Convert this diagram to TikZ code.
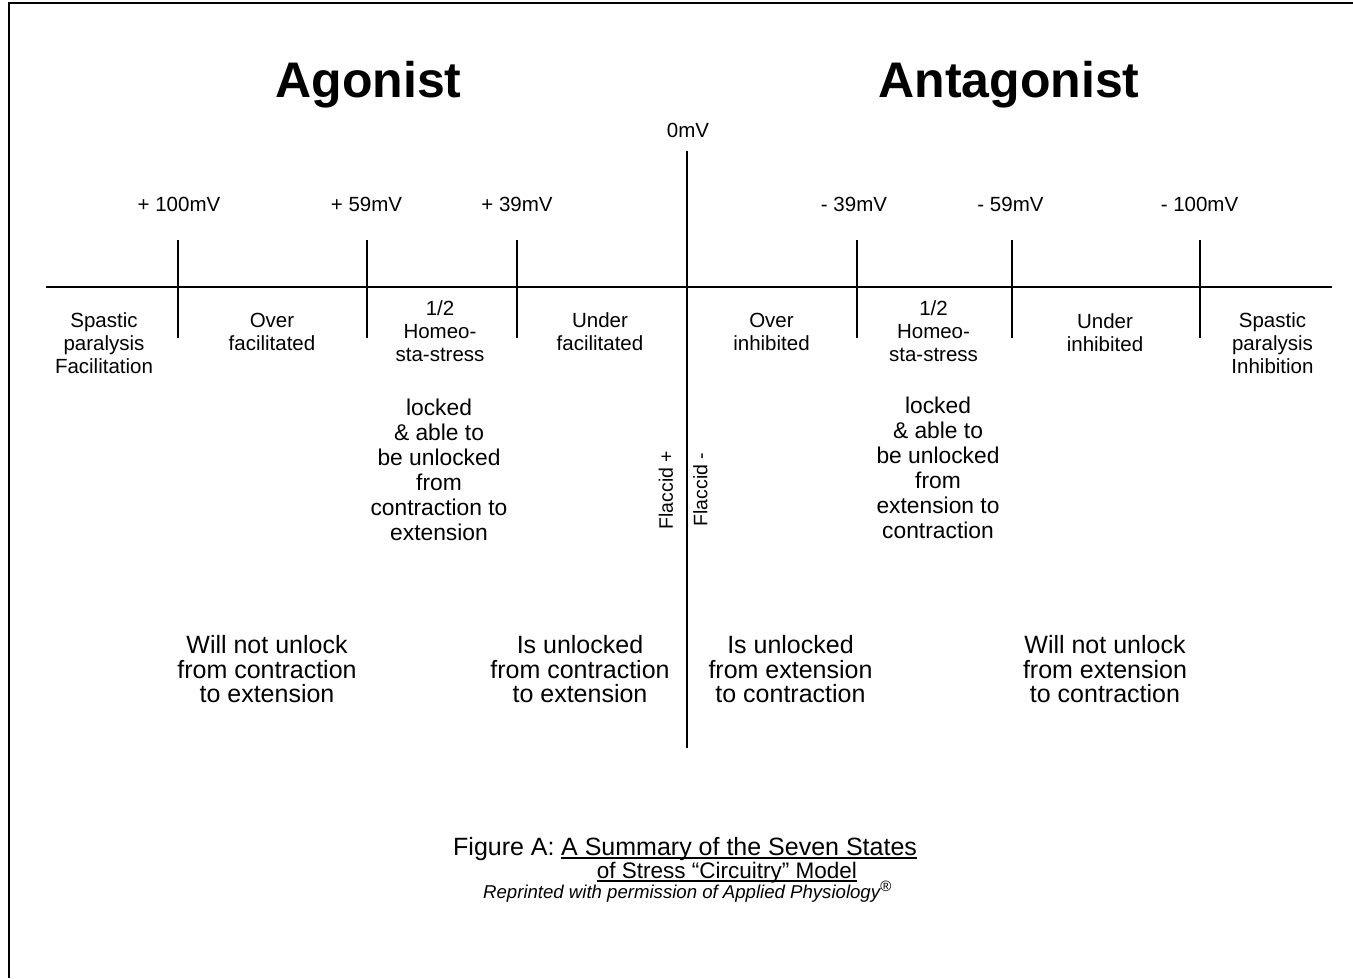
\documentclass[tikz,border=0pt]{standalone}
\usepackage{fontspec}
\setmainfont{Liberation Sans}
\begin{document}
\begin{tikzpicture}[x=1pt,y=-1pt,
  frame/.style={line width=2pt},
  axisline/.style={line width=2.2pt},
  tickline/.style={line width=2pt},
  ulinestyle/.style={line width=1.4pt},
  title/.style={font=\bfseries\fontsize{50}{56}\selectfont, inner sep=0, anchor=base},
  mvlabel/.style={font=\fontsize{20.5}{23}\selectfont, inner sep=0, anchor=base},
  region/.style={font=\fontsize{20.5}{23}\selectfont, align=center, inner sep=0},
  midtext/.style={font=\fontsize{22.8}{25}\selectfont, align=center, inner sep=0},
  bottomtext/.style={font=\fontsize{25}{24.5}\selectfont, align=center, inner sep=0},
  flaccid/.style={font=\fontsize{19.5}{22}\selectfont, inner sep=0, rotate=90},
  captionA/.style={font=\fontsize{25}{28}\selectfont, inner sep=0, anchor=base west},
  captionB/.style={font=\fontsize{22.5}{26}\selectfont, inner sep=0, anchor=base},
  reprint/.style={font=\itshape\fontsize{18.6}{21}\selectfont, inner sep=0, anchor=base west}
]
\fill[white] (0,0) rectangle (1353,978);
\useasboundingbox (0,0) rectangle (1353,978);

% frame (top and left only)
\coordinate (fTR) at (1353,3);
\coordinate (fTL) at (9,3);
\coordinate (fBL) at (9,978);
\draw[frame] (fTR) -- (fTL) -- (fBL);

% titles
\node[title] (agonist) at (368.5,97) {Agonist};
\node[title] (antagonist) at (1009,97) {Antagonist};

% main axes
\coordinate (axL) at (46,287);
\coordinate (axR) at (1332,287);
\draw[axisline] (axL) -- (axR);
\node[mvlabel] (zero) at (688,137) {0mV};
\coordinate (cTop) at (687,151);
\coordinate (cBot) at (687,748);
\draw[axisline, line width=2.4pt] (cTop) -- (cBot);

% ticks
\foreach \nm/\x in {p100/178, p59/367, p39/517, m39/857, m59/1012, m100/1200}{
  \coordinate (\nm T) at (\x,240);
  \coordinate (\nm B) at (\x,338);
  \draw[tickline] (\nm T) -- (\nm B);
}

% tick labels
\node[mvlabel] (lp100) at (179,211) {+ 100mV};
\node[mvlabel] (lp59) at (366.5,211) {+ 59mV};
\node[mvlabel] (lp39) at (517,211) {+ 39mV};
\node[mvlabel] (lm39) at (854,211) {- 39mV};
\node[mvlabel] (lm59) at (1010.5,211) {- 59mV};
\node[mvlabel] (lm100) at (1199.5,211) {- 100mV};

% region labels
\node[region] (spF) at (104,343) {Spastic\\paralysis\\Facilitation};
\node[region] (overF) at (272,331.5) {Over\\facilitated};
\node[region] (homeoL) at (440,331) {1/2\\Homeo-\\sta-stress};
\node[region] (underF) at (600,331.5) {Under\\facilitated};
\node[region] (overI) at (771.5,331.5) {Over\\inhibited};
\node[region] (homeoR) at (933.5,331) {1/2\\Homeo-\\sta-stress};
\node[region] (underI) at (1105,332.5) {Under\\inhibited};
\node[region] (spI) at (1272.5,343) {Spastic\\paralysis\\Inhibition};

% middle texts
\node[midtext] (lockL) at (439,470) {locked\\\& able to\\be unlocked\\from\\contraction to\\extension};
\node[midtext] (lockR) at (938,468) {locked\\\& able to\\be unlocked\\from\\extension to\\contraction};

% flaccid
\node[flaccid] (flp) at (666,490) {Flaccid +};
\node[flaccid] (flm) at (700.5,489.5) {Flaccid -};

% bottom texts
\node[bottomtext] (b1) at (267,669.5) {Will not unlock\\from contraction\\to extension};
\node[bottomtext] (b2) at (580,669.5) {Is unlocked\\from contraction\\to extension};
\node[bottomtext] (b3) at (790.5,669.5) {Is unlocked\\from extension\\to contraction};
\node[bottomtext] (b4) at (1105,669.5) {Will not unlock\\from extension\\to contraction};

% caption
\node[captionA] (capfig) at (453,855) {Figure A:};
\node[captionA] (cap1) at (561,855) {A Summary of the Seven States};
\draw[ulinestyle] ([yshift=-3pt]cap1.base west) -- ([yshift=-3pt]cap1.base east);
\node[captionB] (cap2) at (727,878) {of Stress “Circuitry” Model};
\draw[ulinestyle] ([yshift=-3pt]cap2.base west) -- ([yshift=-3pt]cap2.base east);
\node[reprint] (rep) at (483,898) {Reprinted with permission of Applied Physiology\raisebox{7pt}{\fontsize{15}{16}\selectfont ®}};
\end{tikzpicture}
\end{document}
